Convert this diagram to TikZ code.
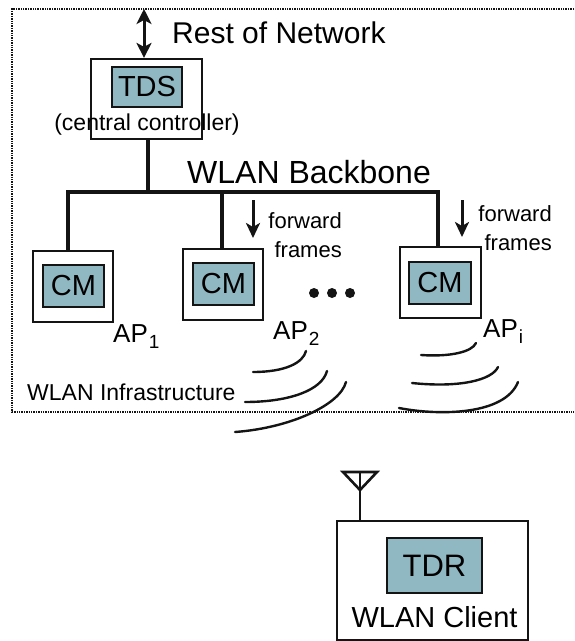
\documentclass[tikz,border=0pt]{standalone}
\usepackage{fontspec}
\setmainfont{Liberation Sans}
\usetikzlibrary{arrows.meta,positioning}
\definecolor{Modem}{RGB}{143,184,194}
\definecolor{Ink}{RGB}{20,20,20}
\newcommand{\apname}[1]{AP\hspace{1pt}\raisebox{-6pt}{\fontsize{19pt}{19pt}\selectfont #1}}

\begin{document}
\begin{tikzpicture}[x=1pt,y=-1pt,
    frame/.style={draw=Ink,line width=1.4pt,densely dotted},
    outerbox/.style={draw=Ink,line width=2.2pt,fill=white,inner sep=0pt},
    innerbox/.style={draw=Ink,line width=2.8pt,fill=Modem,inner sep=0pt,font=\fontsize{29pt}{34pt}\selectfont},
    wire/.style={draw=Ink,line width=3.4pt},
    wave/.style={draw=Ink,line width=2.4pt,line cap=round},
    bigtext/.style={font=\fontsize{30pt}{36pt}\selectfont,inner sep=0pt},
    midtext/.style={font=\fontsize{23pt}{29pt}\selectfont,inner sep=0pt},
    aptext/.style={font=\fontsize{26pt}{30pt}\selectfont,inner sep=0pt,anchor=base west},
    fwdtext/.style={font=\fontsize{22pt}{29pt}\selectfont,inner sep=0pt,align=right,anchor=north east},
    fwdarrow/.style={draw=Ink,line width=3pt,-{Stealth[length=15pt,width=14pt,inset=4pt]}}
]
\useasboundingbox (0,0) rectangle (574,641);

% Infrastructure frame (open to the right)
\draw[frame] (574,9) -- (12,9) -- (12,412) -- (574,412);

% TDS
\node[outerbox,minimum width=111pt,minimum height=80pt] (tdsbox) at (146.5,99) {};
\node[innerbox,minimum width=70pt,minimum height=40pt] (tds) at (147,87) {TDS};
\node[midtext,anchor=base] (ctrl) at (147,130) {(central controller)};

% Rest of network
\coordinate (net) at (144,9);
\draw[Ink,line width=3pt,{Stealth[length=15pt,width=15pt,inset=4pt]}-{Stealth[length=15pt,width=15pt,inset=4pt]}] (net) -- (net |- tdsbox.north);
\node[bigtext,anchor=base west] (rest) at (172,43) {Rest of Network};

% Backbone
\coordinate (bb1) at (68,192);
\coordinate (bb2) at (222,192);
\coordinate (bbi) at (438,192);
\draw[wire] (tdsbox.south -| 148,0) -- (148,192);
\draw[wire,line cap=rect] (bb1) -- (bbi);
\node[bigtext,font=\fontsize{32pt}{36pt}\selectfont,anchor=base west] (bbone) at (187,183) {WLAN Backbone};

% Access points
\node[outerbox,minimum width=80pt,minimum height=71pt] (ap1) at (73,286.5) {};
\node[innerbox,minimum width=61pt,minimum height=42pt] (cm1) at (73.5,286) {CM};
\node[outerbox,minimum width=80pt,minimum height=71pt] (ap2) at (223,284.5) {};
\node[innerbox,minimum width=61pt,minimum height=42pt] (cm2) at (223.5,284) {CM};
\node[outerbox,minimum width=81pt,minimum height=71pt] (api) at (440.5,282.5) {};
\node[innerbox,minimum width=62pt,minimum height=42pt] (cmi) at (440,283) {CM};

\draw[wire] (bb1) -- (bb1 |- ap1.north);
\draw[wire] (bb2) -- (bb2 |- ap2.north);
\draw[wire] (bbi) -- (bbi |- api.north);

\node[aptext] (lab1) at (113,342) {\apname{1}};
\node[aptext] (lab2) at (273,339) {\apname{2}};
\node[aptext] (labi) at (483,337) {\apname{i}};

% Dots between AP2 and APi
\foreach \x in {314,332,350}
  \fill[Ink] (\x,293) circle (5pt);

% Forward frames
\coordinate (fw2) at (253,200);
\coordinate (fwi) at (462,200);
\draw[fwdarrow] (fw2) -- ++(0,38);
\draw[fwdarrow] (fwi) -- ++(0,37);
\node[fwdtext] (fwd2) at (342,212) {forward\\frames};
\node[fwdtext] (fwdi) at (552,205) {forward\\frames};

% Radio waves
\draw[wave] (253,372) .. controls (285,372) and (303,363) .. (306,351);
\draw[wave] (245,402) .. controls (290,402) and (322,390) .. (327,371);
\draw[wave] (235,432) .. controls (290,428) and (340,405) .. (346,382);
\draw[wave] (421,355) .. controls (450,357) and (472,352) .. (476,343);
\draw[wave] (412,383) .. controls (460,388) and (492,380) .. (498,367);
\draw[wave] (399,408) .. controls (440,416) and (505,415) .. (518,382);

\node[midtext,anchor=base west] (infra) at (27,400) {WLAN Infrastructure};

% Client
\node[outerbox,minimum width=191pt,minimum height=119pt] (client) at (432.5,580.5) {};
\node[innerbox,font=\fontsize{31pt}{36pt}\selectfont,minimum width=95pt,minimum height=55pt] (tdr) at (434.5,565.5) {TDR};
\node[bigtext,font=\fontsize{29pt}{34pt}\selectfont,anchor=base] (cname) at (434.5,627) {WLAN Client};

% Antenna
\coordinate (ant) at (360,472);
\draw[Ink,line width=2.6pt,line join=miter] (343,472) -- (377,472) -- (360,490) -- cycle;
\draw[Ink,line width=2.6pt] (ant) -- (ant |- client.north);

\end{tikzpicture}
\end{document}
